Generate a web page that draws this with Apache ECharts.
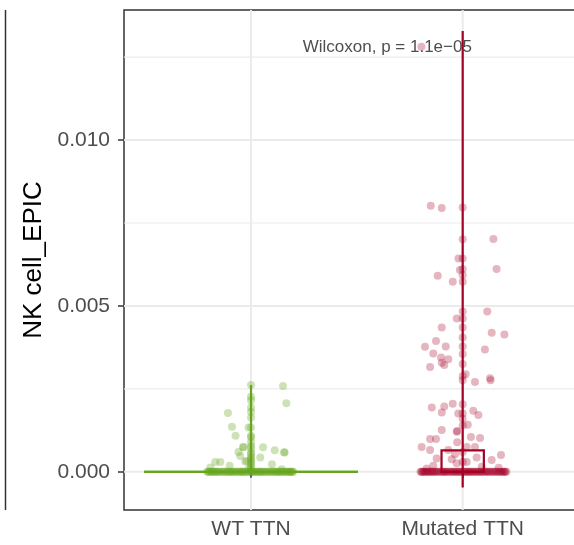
<!DOCTYPE html>
<html>
<head>
<meta charset="utf-8">
<script src="https://cdn.jsdelivr.net/npm/echarts@6/dist/echarts.min.js"></script>
<style>
html, body { margin: 0; padding: 0; background: #fff; overflow: hidden; }
#chart { width: 600px; height: 545px; }
</style>
</head>
<body>
<div id="chart"></div>
<script>
var groups = ['WT TTN', 'Mutated TTN'];
var yTicks = [0, 0.005, 0.010];
var yMinor = [0.0025, 0.0075, 0.0125];

// box stats per group: [position, lower, q1, median, q3, upper]
var wtBox = [1, 0, 0, 0, 0, 0.00262];
var mutBox = [2, -0.00047, 0, 0, 0.00065, 0.01329];

// jittered points (offset from group centre, value)
var wtJitter = [
  -0.109, -0.090, -0.073, -0.038, -0.059, -0.051, -0.169, -0.145, -0.101, -0.192, -0.027,
  0.151, 0.167, -0.035, 0.057, 0.112, 0.159, 0.156, 0.044, -0.020, 0.099, 0.145, -0.010,
  0, 0, 0, 0, 0, 0, 0, -0.012, 0, 0, 0, 0, 0, 0, 0, 0, 0, 0, 0, 0, 0,
  -0.207, -0.198, -0.186, -0.181, -0.166, -0.158, -0.149, -0.133, -0.127, -0.114, -0.102,
  -0.094, -0.081, -0.069, -0.062, -0.047, -0.041, -0.028, -0.016, -0.006, 0.004, 0.013,
  0.024, 0.037, 0.046, 0.058, 0.071, 0.079, 0.093, 0.104, 0.117, 0.126, 0.138, 0.149,
  0.161, 0.172, 0.183, 0.191, 0.199,
  -0.203, -0.193, -0.177, -0.170, -0.154, -0.139, -0.122, -0.108, -0.097, -0.085, -0.074,
  -0.056, -0.044, -0.033, -0.021, -0.002, 0.009, 0.019, 0.031, 0.042, 0.052, 0.066,
  0.083, 0.097, 0.110, 0.121, 0.133, 0.142, 0.155, 0.167, 0.178, 0.187, 0.196
];
var wtValue = [
  0.00177, 0.00136, 0.00109, 0.00074, 0.00060, 0.00048, 0.00030, 0.00030, 0.00018, 0.00013, 0.00031,
  0.00259, 0.00207, 0.00075, 0.00074, 0.00065, 0.00058, 0.00059, 0.00043, 0.00033, 0.00023, 0.00008, 0.00010,
  0.00262, 0.00226, 0.00216, 0.00194, 0.00181, 0.00164, 0.00134, 0.00134, 0.00104, 0.00109, 0.00090,
  0.00078, 0.00070, 0.00058, 0.00053, 0.00045, 0.00038, 0.00033, 0.00025, 0.00018, 0.00012,
  0, 0, 0, 0, 0, 0, 0, 0, 0, 0, 0,
  0, 0, 0, 0, 0, 0, 0, 0, 0, 0, 0,
  0, 0, 0, 0, 0, 0, 0, 0, 0, 0, 0, 0,
  0, 0, 0, 0, 0,
  0, 0, 0, 0, 0, 0, 0, 0, 0, 0, 0,
  0, 0, 0, 0, 0, 0, 0, 0, 0, 0, 0,
  0, 0, 0, 0, 0, 0, 0, 0, 0, 0, 0
];

var mutJitter = [
  -0.195, -0.151, -0.099, 0.145, -0.020, -0.013, 0.160, -0.118, -0.047, 0.116, -0.028,
  -0.099, 0.137, 0.197, -0.126, -0.178, -0.080, 0.105, -0.139, -0.102, -0.068, -0.099,
  -0.087, -0.154, 0.014, 0.129, 0.132, 0.058, -0.146, -0.087, -0.047, -0.099, -0.021,
  0.050, 0.074, 0.024, -0.099, -0.028, -0.026, 0.039, 0.082, -0.154, -0.126, -0.026,
  -0.194, -0.154, 0.019, 0.058, -0.068, -0.036, -0.123, -0.052, 0.019, 0.066, 0.137,
  0.181, -0.139, -0.028, 0.170, -0.170, 0.090,
  0, 0, 0, 0, 0, 0, 0, 0, 0, 0, 0, 0, 0, 0, 0, 0, 0, 0, 0, 0, 0,
  -0.199, -0.191, -0.183, -0.171, -0.162, -0.150, -0.141, -0.129, -0.118, -0.110, -0.096,
  -0.087, -0.076, -0.063, -0.055, -0.043, -0.031, -0.019, -0.008, 0.006, 0.017, 0.029,
  0.038, 0.052, 0.063, 0.077, 0.088, 0.101, 0.113, 0.124, 0.139, 0.151, 0.164, 0.176,
  0.188, 0.197, 0.206,
  -0.195, -0.186, -0.176, -0.166, -0.156, -0.145, -0.134, -0.123, -0.103, -0.091, -0.081,
  -0.069, -0.049, -0.037, -0.024, -0.013, 0.001, 0.011, 0.023, 0.034, 0.045, 0.058,
  0.070, 0.082, 0.094, 0.107, 0.119, 0.131, 0.145, 0.158, 0.170, 0.182, 0.193, 0.202
];
var mutValue = [
  0.01281, 0.00802, 0.00795, 0.00702, 0.00643, 0.00608, 0.00611, 0.00591, 0.00573, 0.00483, 0.00462,
  0.00435, 0.00419, 0.00414, 0.00394, 0.00377, 0.00378, 0.00369, 0.00357, 0.00345, 0.00339, 0.00329,
  0.00322, 0.00316, 0.00294, 0.00282, 0.00276, 0.00271, 0.00194, 0.00197, 0.00205, 0.00179, 0.00176,
  0.00184, 0.00171, 0.00142, 0.00126, 0.00121, 0.00123, 0.00105, 0.00102, 0.00099, 0.00099, 0.00089,
  0.00075, 0.00066, 0.00075, 0.00075, 0.00066, 0.00053, 0.00040, 0.00038, 0.00030, 0.00043, 0.00036,
  0.00051, 0.00018, 0.00026, 0.00012, 0.00010, 0.00015,
  0.00797, 0.00701, 0.00643, 0.00611, 0.00593, 0.00573, 0.00483, 0.00462, 0.00435, 0.00405, 0.00378,
  0.00355, 0.00325, 0.00289, 0.00276, 0.00204, 0.00176, 0.00160, 0.00140, 0.00060, 0.00030,
  0, 0, 0, 0, 0, 0, 0, 0, 0, 0, 0,
  0, 0, 0, 0, 0, 0, 0, 0, 0, 0, 0,
  0, 0, 0, 0, 0, 0, 0, 0, 0, 0, 0, 0,
  0, 0, 0,
  0, 0, 0, 0, 0, 0, 0, 0, 0, 0, 0,
  0, 0, 0, 0, 0, 0, 0, 0, 0, 0, 0,
  0, 0, 0, 0, 0, 0, 0, 0, 0, 0, 0, 0
];

var testLabel = 'Wilcoxon, p = 1.1e\u221205';
var testLabelAt = [1.644, 0.0128];

var colors = ['#66A61E', '#A50026'];
var pointColors = ['rgba(102,166,30,0.4)', 'rgba(165,0,38,0.36)'];
var boxHalf = [0.505, 0.1];
var font = '"Liberation Sans", Arial, sans-serif';

function points(pos, jitter, values) {
  return values.map(function (v, i) { return [pos + jitter[i], v]; });
}

// panel grid: [axis (0 = x, 1 = y), value, major?]
var gridData = [];
yTicks.forEach(function (v) { gridData.push([1, v, 1]); });
yMinor.forEach(function (v) { gridData.push([1, v, 0]); });
[1, 2].forEach(function (v) { gridData.push([0, v, 1]); });

var chart = echarts.init(document.getElementById('chart'));
chart.setOption({
  animation: false,
  backgroundColor: '#fff',
  grid: {
    left: 124, top: 10, width: 465.7, bottom: 35,
    show: true, borderColor: '#333', borderWidth: 1.5
  },
  xAxis: {
    type: 'value', min: 0.4, max: 2.6,
    splitLine: { show: false },
    axisLine: { show: false },
    axisTick: { customValues: [1, 2], length: 6, lineStyle: { color: '#333', width: 1.5 } },
    axisLabel: {
      customValues: [1, 2], margin: 9, fontSize: 21, color: '#4d4d4d', fontFamily: font,
      formatter: function (v) { return groups[Math.round(v) - 1]; }
    }
  },
  yAxis: {
    type: 'value', min: -0.00115, max: 0.01392,
    name: 'NK cell_EPIC', nameLocation: 'middle', nameGap: 74,
    nameTextStyle: { fontSize: 26, color: '#000', fontFamily: font },
    splitLine: { show: false },
    axisLine: { show: false },
    axisTick: { customValues: yTicks, length: 6, lineStyle: { color: '#333', width: 1.5 } },
    axisLabel: {
      customValues: yTicks, margin: 14, fontSize: 21, color: '#4d4d4d', fontFamily: font,
      formatter: function (v) { return v.toFixed(3); }
    }
  },
  graphic: [
    { type: 'line', shape: { x1: 5.5, y1: 10, x2: 5.5, y2: 510 }, style: { stroke: '#333', lineWidth: 1.5 } }
  ],
  series: [
    {
      type: 'custom', z: 0, silent: true,
      data: gridData,
      encode: { x: -1, y: -1 },
      renderItem: function (params, api) {
        var cs = params.coordSys;
        var w = api.value(2) ? 2 : 1.2;
        var shape;
        if (api.value(0) === 1) {
          var y = api.coord([1, api.value(1)])[1];
          shape = { x1: cs.x, y1: y, x2: cs.x + cs.width, y2: y };
        } else {
          var x = api.coord([api.value(1), 0])[0];
          shape = { x1: x, y1: cs.y, x2: x, y2: cs.y + cs.height };
        }
        return { type: 'line', shape: shape, style: { stroke: '#ebebeb', lineWidth: w } };
      }
    },
    {
      type: 'scatter', z: 1, silent: true,
      data: [testLabelAt], symbolSize: 0,
      label: {
        show: true, position: 'inside', formatter: testLabel,
        fontSize: 17, color: '#222', fontFamily: font
      }
    },
    {
      type: 'scatter', z: 2, symbolSize: 8,
      itemStyle: { color: pointColors[0] },
      data: points(1, wtJitter, wtValue)
    },
    {
      type: 'scatter', z: 2, symbolSize: 8,
      itemStyle: { color: pointColors[1] },
      data: points(2, mutJitter, mutValue)
    },
    {
      type: 'custom', z: 3,
      encode: { x: 0, y: [1, 2, 3, 4, 5] },
      data: [wtBox, mutBox],
      renderItem: function (params, api) {
        var i = params.dataIndex;
        var pos = api.value(0), half = boxHalf[i], c = colors[i];
        var lo = api.coord([pos, api.value(1)]);
        var hi = api.coord([pos, api.value(5)]);
        var bl = api.coord([pos - half, api.value(2)]);
        var tr = api.coord([pos + half, api.value(4)]);
        var ml = api.coord([pos - half, api.value(3)]);
        var mr = api.coord([pos + half, api.value(3)]);
        return {
          type: 'group',
          children: [
            { type: 'line', shape: { x1: lo[0], y1: lo[1], x2: hi[0], y2: hi[1] }, style: { stroke: c, lineWidth: 2.2 } },
            { type: 'rect', shape: { x: bl[0], y: tr[1], width: tr[0] - bl[0], height: bl[1] - tr[1] }, style: { fill: 'none', stroke: c, lineWidth: 2.2 } },
            { type: 'line', shape: { x1: ml[0], y1: ml[1], x2: mr[0], y2: mr[1] }, style: { stroke: c, lineWidth: 2.4 } }
          ]
        };
      }
    }
  ]
});
</script>
</body>
</html>
